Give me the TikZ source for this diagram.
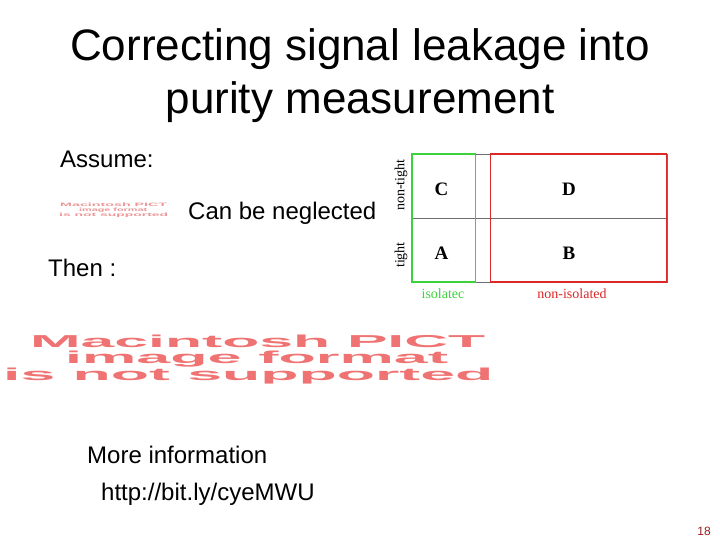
\documentclass[tikz,border=0pt]{standalone}
\usepackage{fontspec}
\setmainfont{Liberation Sans}
\newfontfamily\tabserif{Liberation Serif}
\definecolor{pictred}{RGB}{240,115,115}
\definecolor{pictpale}{RGB}{235,150,150}
\definecolor{tgreen}{RGB}{60,210,60}
\definecolor{tred}{RGB}{220,40,40}
\definecolor{tgrey}{RGB}{110,110,110}
\definecolor{pagered}{RGB}{160,30,30}
\begin{document}
\begin{tikzpicture}[x=1pt,y=-1pt,
  txt/.style={anchor=base west,inner sep=0pt,font=\fontsize{24}{28}\selectfont},
  bigpict/.style={anchor=base west,inner sep=0pt,text=pictred},
  smallpict/.style={anchor=base west,inner sep=0pt,text=pictpale},
  letter/.style={inner sep=0pt,font=\tabserif\bfseries\fontsize{19}{22}\selectfont},
  sidelab/.style={inner sep=0pt,rotate=90,font=\tabserif\fontsize{14}{16}\selectfont},
  collab/.style={anchor=base,inner sep=0pt,font=\tabserif\fontsize{14}{16}\selectfont}]
\useasboundingbox[fill=white] (0,0) rectangle (720,540);
% title
\node[anchor=base,inner sep=0pt,font=\fontsize{44}{50}\selectfont] (t1) at (360,61) {Correcting signal leakage into};
\node[anchor=base,inner sep=0pt,font=\fontsize{44}{50}\selectfont] (t2) at (360,114) {purity measurement};
% body text
\node[txt] (assume) at (60,168) {Assume:};
\node[txt] (neglect) at (188,220) {Can be neglected};
\node[txt] (then) at (48,276) {Then :};
\node[txt] (more) at (87,463) {More information};
\node[txt] (url) at (101,500) {http://bit.ly/cyeMWU};
\node[anchor=base,inner sep=0pt,text=pagered,font=\fontsize{12}{14}\selectfont] (page) at (704,535) {18};
% small placeholder
\node[smallpict] (sp1) at (60,207) {\resizebox{107pt}{3.5pt}{\bfseries Macintosh PICT}};
\node[smallpict] (sp2) at (79,212) {\resizebox{68pt}{3.5pt}{\bfseries image format}};
\node[smallpict] (sp3) at (59,217) {\resizebox{109pt}{3.5pt}{\bfseries is not supported}};
% big placeholder
\node[bigpict] (bp1) at (30,347) {\resizebox{455pt}{12.5pt}{\bfseries Macintosh PICT}};
\node[bigpict] (bp2) at (65,363.5) {\resizebox{383pt}{12.5pt}{\bfseries image format}};
\node[bigpict] (bp3) at (3,380) {\resizebox{490pt}{12.5pt}{\bfseries is not supported}};
% table
\draw[tgrey,line width=0.8pt] (412,154) rectangle (667,282);
\draw[tgrey,line width=0.8pt] (412,218) -- (667,218);
\draw[tgreen,line width=1.5pt] (412,154) rectangle (475.5,282);
\draw[tred,line width=1.2pt] (490.5,154) rectangle (666.5,282);
\node[letter] (C) at (441.5,189) {C};
\node[letter] (D) at (569,189) {D};
\node[letter] (A) at (441.5,253) {A};
\node[letter] (B) at (569,253) {B};
\node[sidelab] (nt) at (401,185) {non-tight};
\node[sidelab] (ti) at (401,255) {tight};
\node[collab,text=tgreen] (iso) at (443,298) {isolatec};
\node[collab,text=tred] (niso) at (572,298) {non-isolated};
\end{tikzpicture}
\end{document}
